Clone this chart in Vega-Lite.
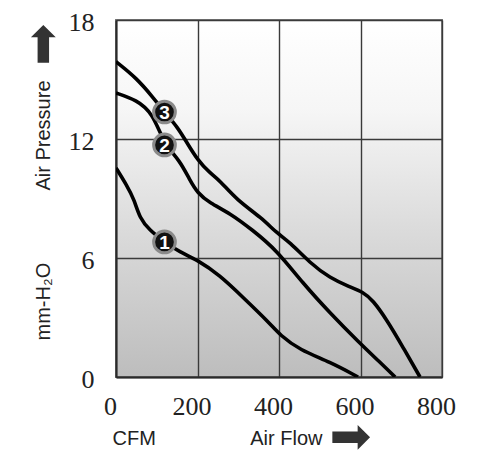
{
  "$schema": "https://vega.github.io/schema/vega-lite/v6.json",
  "autosize": {"type": "none"},
  "padding": {"left": 116, "top": 20, "right": 58, "bottom": 85},
  "width": 326,
  "height": 357,
  "background": "#ffffff",
  "config": {
    "view": {
      "fill": {"gradient": "linear", "x1": 0, "y1": 0, "x2": 0, "y2": 1,
        "stops": [
          {"offset": 0, "color": "#ffffff"},
          {"offset": 0.25, "color": "#f6f6f6"},
          {"offset": 0.6, "color": "#dadada"},
          {"offset": 1, "color": "#bdbdbd"}
        ]},
      "stroke": "#7a7a7a",
      "strokeWidth": 2
    }
  },
  "datasets": {
    "curves": [
      {"curve": "3", "cfm": 0, "p": 15.9},
      {"curve": "3", "cfm": 50, "p": 15.08},
      {"curve": "3", "cfm": 90, "p": 14.12},
      {"curve": "3", "cfm": 119, "p": 13.36},
      {"curve": "3", "cfm": 151, "p": 12.6},
      {"curve": "3", "cfm": 173, "p": 11.85},
      {"curve": "3", "cfm": 200, "p": 10.94},
      {"curve": "3", "cfm": 230, "p": 10.29},
      {"curve": "3", "cfm": 254, "p": 9.93},
      {"curve": "3", "cfm": 296, "p": 8.93},
      {"curve": "3", "cfm": 358, "p": 8.02},
      {"curve": "3", "cfm": 394, "p": 7.26},
      {"curve": "3", "cfm": 426, "p": 6.81},
      {"curve": "3", "cfm": 476, "p": 5.75},
      {"curve": "3", "cfm": 525, "p": 4.99},
      {"curve": "3", "cfm": 574, "p": 4.54},
      {"curve": "3", "cfm": 606, "p": 4.29},
      {"curve": "3", "cfm": 630, "p": 3.88},
      {"curve": "3", "cfm": 665, "p": 2.87},
      {"curve": "3", "cfm": 704, "p": 1.51},
      {"curve": "3", "cfm": 746, "p": 0},
      {"curve": "2", "cfm": 0, "p": 14.32},
      {"curve": "2", "cfm": 50, "p": 13.97},
      {"curve": "2", "cfm": 90, "p": 13.31},
      {"curve": "2", "cfm": 119, "p": 11.7},
      {"curve": "2", "cfm": 156, "p": 10.94},
      {"curve": "2", "cfm": 181, "p": 9.93},
      {"curve": "2", "cfm": 200, "p": 9.28},
      {"curve": "2", "cfm": 230, "p": 8.77},
      {"curve": "2", "cfm": 279, "p": 8.27},
      {"curve": "2", "cfm": 335, "p": 7.41},
      {"curve": "2", "cfm": 394, "p": 6.4},
      {"curve": "2", "cfm": 458, "p": 4.74},
      {"curve": "2", "cfm": 525, "p": 3.23},
      {"curve": "2", "cfm": 598, "p": 1.71},
      {"curve": "2", "cfm": 647, "p": 0.76},
      {"curve": "2", "cfm": 685, "p": 0},
      {"curve": "1", "cfm": 0, "p": 10.54},
      {"curve": "1", "cfm": 26, "p": 9.68},
      {"curve": "1", "cfm": 45, "p": 8.93},
      {"curve": "1", "cfm": 58, "p": 8.02},
      {"curve": "1", "cfm": 82, "p": 7.41},
      {"curve": "1", "cfm": 119, "p": 6.81},
      {"curve": "1", "cfm": 156, "p": 6.3},
      {"curve": "1", "cfm": 200, "p": 5.9},
      {"curve": "1", "cfm": 254, "p": 5.14},
      {"curve": "1", "cfm": 311, "p": 4.03},
      {"curve": "1", "cfm": 377, "p": 2.72},
      {"curve": "1", "cfm": 402, "p": 2.12},
      {"curve": "1", "cfm": 451, "p": 1.36},
      {"curve": "1", "cfm": 525, "p": 0.76},
      {"curve": "1", "cfm": 594, "p": 0}
    ],
    "markers": [
      {"curve": "3", "cfm": 119, "p": 13.36},
      {"curve": "2", "cfm": 119, "p": 11.7},
      {"curve": "1", "cfm": 119, "p": 6.81}
    ]
  },
  "resolve": {"axis": {"x": "independent", "y": "independent"}},
  "layer": [
    {
      "data": {"name": "curves"},
      "mark": {"type": "line", "color": "#000000", "strokeWidth": 3.6, "interpolate": "basis", "clip": true},
      "encoding": {
        "x": {"field": "cfm", "type": "quantitative",
          "scale": {"domain": [0, 800], "nice": false},
          "axis": {
            "orient": "bottom",
            "values": [0, 200, 400, 600, 800],
            "grid": true, "gridColor": "#3a3a3a", "gridWidth": 1.4, "gridOpacity": 1,
            "domain": true, "domainColor": "#2a2a2a", "domainWidth": 2,
            "ticks": false, "labelFlush": false, "labelOverlap": false,
            "labelFont": "Liberation Serif", "labelFontSize": 26, "labelColor": "#222222",
            "labelPadding": 16, "labelOffset": -6, "labelBaseline": "top",
            "title": "CFM\u00a0\u00a0\u00a0\u00a0\u00a0\u00a0\u00a0\u00a0\u00a0\u00a0\u00a0\u00a0\u00a0\u00a0\u00a0\u00a0\u00a0Air Flow",
            "titleFont": "Liberation Sans", "titleFontSize": 20, "titleFontWeight": "normal", "titleColor": "#222222",
            "titleAnchor": "start", "titleAlign": "left", "titleX": -4, "titleY": 61, "titleBaseline": "middle"
          }},
        "y": {"field": "p", "type": "quantitative",
          "scale": {"domain": [0, 18], "nice": false},
          "axis": {
            "orient": "left",
            "values": [0, 6, 12, 18],
            "grid": true, "gridColor": "#3a3a3a", "gridWidth": 1.4, "gridOpacity": 1,
            "domain": true, "domainColor": "#2a2a2a", "domainWidth": 2,
            "ticks": false, "labelFlush": false, "labelOverlap": false,
            "labelFont": "Liberation Serif", "labelFontSize": 26, "labelColor": "#222222",
            "labelPadding": 22, "labelOffset": 2,
            "title": "mm-H\u2082O\u00a0\u00a0\u00a0\u00a0\u00a0\u00a0\u00a0\u00a0\u00a0\u00a0\u00a0\u00a0\u00a0Air Pressure",
            "titleFont": "Liberation Sans", "titleFontSize": 20, "titleFontWeight": "normal", "titleColor": "#222222",
            "titleAnchor": "middle", "titleX": -73, "titleY": 190, "titleBaseline": "middle"
          }},
        "detail": {"field": "curve", "type": "nominal"}
      }
    },
    {
      "data": {"name": "markers"},
      "mark": {"type": "point", "shape": "circle", "filled": true, "fill": "#111111", "stroke": "#8a8a8a", "strokeWidth": 3, "size": 470, "opacity": 1},
      "encoding": {
        "x": {"field": "cfm", "type": "quantitative", "axis": null},
        "y": {"field": "p", "type": "quantitative", "axis": null}
      }
    },
    {
      "data": {"name": "markers"},
      "mark": {"type": "text", "color": "#ffffff", "font": "Liberation Sans", "fontSize": 19, "fontWeight": "bold", "align": "center", "baseline": "middle", "dy": 1},
      "encoding": {
        "x": {"field": "cfm", "type": "quantitative",
          "axis": {"orient": "bottom", "labels": false, "ticks": false, "domain": false, "grid": false,
            "title": "\u27a1", "titleFont": "DejaVu Sans", "titleFontSize": 50, "titleFontWeight": "normal", "titleColor": "#333333",
            "titleX": 234, "titleY": 60, "titleBaseline": "middle", "titleAlign": "center"}},
        "y": {"field": "p", "type": "quantitative",
          "axis": {"orient": "left", "labels": false, "ticks": false, "domain": false, "grid": false,
            "title": "\u27a1", "titleFont": "DejaVu Sans", "titleFontSize": 50, "titleFontWeight": "normal", "titleColor": "#333333",
            "titleX": -73, "titleY": 24, "titleBaseline": "middle", "titleAlign": "center"}},
        "text": {"field": "curve", "type": "nominal"}
      }
    }
  ]
}
